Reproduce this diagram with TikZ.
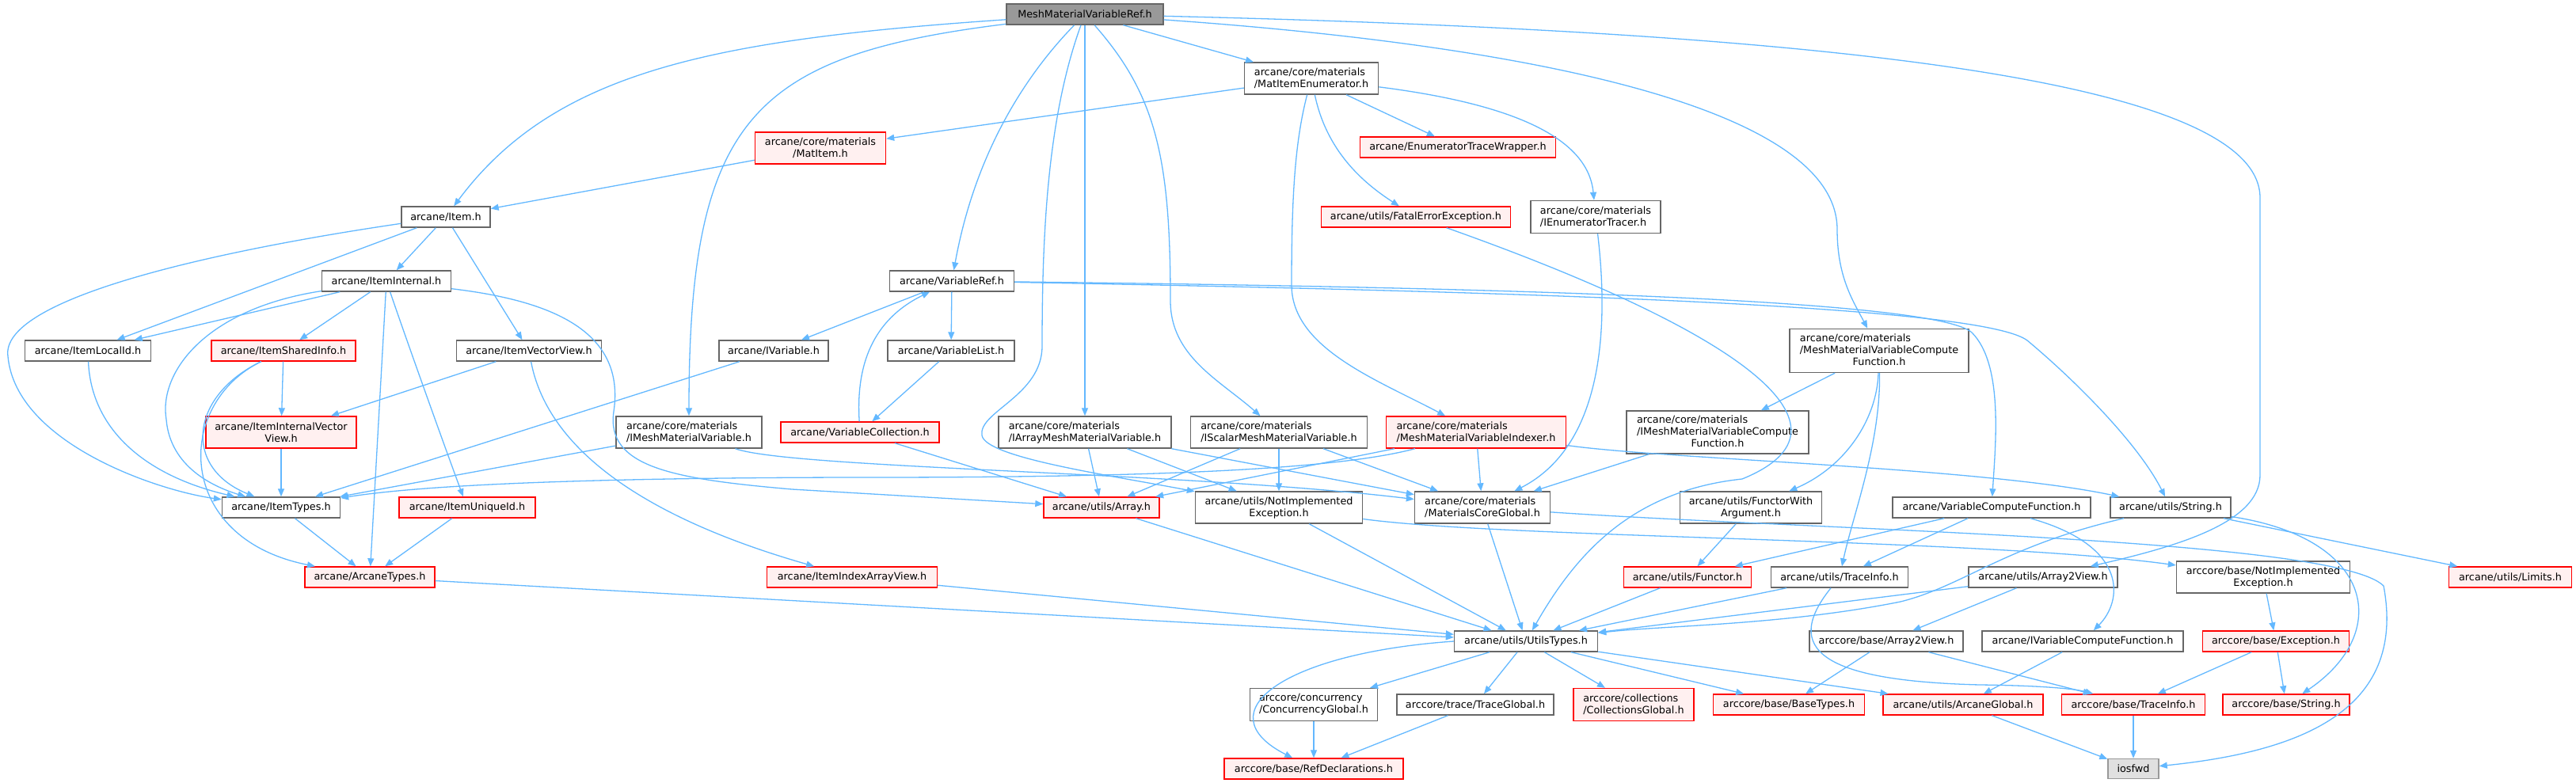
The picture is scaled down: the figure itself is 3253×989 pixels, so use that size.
\documentclass[tikz,border=0pt]{standalone}
\usepackage{fontspec}
\setmainfont{DejaVu Sans}
\usepackage{tikz}
\usetikzlibrary{arrows.meta}
\definecolor{edgeblue}{HTML}{63B8FF}
\definecolor{boxgray}{HTML}{666666}
\definecolor{rootgray}{HTML}{999999}
\definecolor{truncfill}{HTML}{FFF0F0}
\definecolor{sysfill}{HTML}{E0E0E0}
\tikzstyle{file} = [rectangle, draw=boxgray, fill=white, line width=0.7pt, inner sep=1pt, align=center, font=\fontsize{6.4}{7.5}\selectfont]
\tikzstyle{trunc} = [file, draw=red, fill=truncfill]
\tikzstyle{root} = [file, fill=rootgray]
\tikzstyle{sys} = [file, draw=rootgray, fill=sysfill]
\tikzstyle{dep} = [draw=edgeblue, line width=0.65pt, -{Triangle[length=5pt,width=4pt]}]

\begin{document}
\begin{tikzpicture}[x=0.5pt, y=-0.5pt]
    \useasboundingbox (0,0) rectangle (3253,989);

    % Included file (root)
    \node[root, minimum width=99pt, minimum height=13pt] (R) at (1370,18) {MeshMaterialVariableRef.h};

    % Rank 1-2
    \node[file, minimum width=84.5pt, minimum height=20pt, align=left] (matenum) at (1656,99) {arcane/core/materials\\/MatItemEnumerator.h};
    \node[trunc, minimum width=82.5pt, minimum height=20pt] (matitem) at (1036,187) {arcane/core/materials\\/MatItem.h};
    \node[trunc, minimum width=123.5pt, minimum height=13pt] (enumwrap) at (1841,186) {arcane/EnumeratorTraceWrapper.h};
    \node[trunc, minimum width=119.5pt, minimum height=13pt] (fatal) at (1788,274) {arcane/utils/FatalErrorException.h};
    \node[file, minimum width=82pt, minimum height=20.5pt, align=left] (ienumtracer) at (2015,274) {arcane/core/materials\\/IEnumeratorTracer.h};
    \node[file, minimum width=56pt, minimum height=13pt] (item) at (563,274) {arcane/Item.h};

    % Rank 3-4
    \node[file, minimum width=81.5pt, minimum height=13pt] (iteminternal) at (488,355) {arcane/ItemInternal.h};
    \node[file, minimum width=78.5pt, minimum height=13pt] (varref) at (1202,355) {arcane/VariableRef.h};
    \node[file, minimum width=113pt, minimum height=27.5pt] (mmvcf) at (2373,443) {\begin{tabular}{@{}l@{}}arcane/core/materials\\/MeshMaterialVariableCompute\\\multicolumn{1}{@{}c@{}}{Function.h}\end{tabular}};
    \node[file, minimum width=79.5pt, minimum height=13pt] (itemlocalid) at (111,443) {arcane/ItemLocalId.h};
    \node[trunc, minimum width=91pt, minimum height=13pt] (itemsharedinfo) at (358,443) {arcane/ItemSharedInfo.h};
    \node[file, minimum width=91.5pt, minimum height=13pt] (itemvectorview) at (668,443) {arcane/ItemVectorView.h};
    \node[file, minimum width=69pt, minimum height=13pt] (ivariable) at (977,443) {arcane/IVariable.h};
    \node[file, minimum width=80pt, minimum height=13pt] (variablelist) at (1201,443) {arcane/VariableList.h};

    % Rank 5
    \node[trunc, minimum width=95pt, minimum height=20pt] (itemivv) at (355,546) {arcane/ItemInternalVector\\View.h};
    \node[file, minimum width=92pt, minimum height=20pt, align=left] (imeshmatvar) at (870,546) {arcane/core/materials\\/IMeshMaterialVariable.h};
    \node[trunc, minimum width=100pt, minimum height=13pt] (varcoll) at (1086,546) {arcane/VariableCollection.h};
    \node[file, minimum width=109pt, minimum height=20pt, align=left] (iarray) at (1370,546) {arcane/core/materials\\/IArrayMeshMaterialVariable.h};
    \node[file, minimum width=111.5pt, minimum height=20pt, align=left] (iscalar) at (1615,546) {arcane/core/materials\\/IScalarMeshMaterialVariable.h};
    \node[trunc, minimum width=113.5pt, minimum height=20pt, align=left] (indexer) at (1864,546) {arcane/core/materials\\/MeshMaterialVariableIndexer.h};
    \node[file, minimum width=115pt, minimum height=27pt] (immvcf) at (2169,546) {\begin{tabular}{@{}l@{}}arcane/core/materials\\/IMeshMaterialVariableCompute\\\multicolumn{1}{@{}c@{}}{Function.h}\end{tabular}};

    % Rank 6
    \node[file, minimum width=74.5pt, minimum height=13pt] (itemtypes) at (355,641) {arcane/ItemTypes.h};
    \node[trunc, minimum width=86pt, minimum height=13pt] (itemuid) at (590,641) {arcane/ItemUniqueId.h};
    \node[trunc, minimum width=73pt, minimum height=13pt] (array) at (1391,641) {arcane/utils/Array.h};
    \node[file, minimum width=105.5pt, minimum height=20pt] (notimpl) at (1615,641) {arcane/utils/NotImplemented\\Exception.h};
    \node[file, minimum width=85.5pt, minimum height=20pt, align=left] (matcoreglobal) at (1872,641) {arcane/core/materials\\/MaterialsCoreGlobal.h};
    \node[file, minimum width=89.5pt, minimum height=20pt] (functorwith) at (2211,641) {arcane/utils/FunctorWith\\Argument.h};
    \node[file, minimum width=125pt, minimum height=13pt] (varcompfn) at (2515,641) {arcane/VariableComputeFunction.h};
    \node[file, minimum width=76pt, minimum height=13pt] (string) at (2741,641) {arcane/utils/String.h};

    % Rank 7
    \node[trunc, minimum width=82pt, minimum height=13pt] (arcanetypes) at (467,729) {arcane/ArcaneTypes.h};
    \node[trunc, minimum width=107.5pt, minimum height=13pt] (itemindexav) at (1076,729) {arcane/ItemIndexArrayView.h};
    \node[trunc, minimum width=80.5pt, minimum height=13pt] (functor) at (2131,729) {arcane/utils/Functor.h};
    \node[file, minimum width=86.5pt, minimum height=13pt] (traceinfo) at (2323,729) {arcane/utils/TraceInfo.h};
    \node[file, minimum width=94pt, minimum height=13pt] (array2view) at (2580,729) {arcane/utils/Array2View.h};
    \node[file, minimum width=109.5pt, minimum height=20pt] (arcnotimpl) at (2858,729) {arccore/base/NotImplemented\\Exception.h};
    \node[trunc, minimum width=77.5pt, minimum height=13pt] (limits) at (3170,729) {arcane/utils/Limits.h};

    % Rank 8
    \node[file, minimum width=90.5pt, minimum height=13pt] (utilstypes) at (1927,810) {arcane/utils/UtilsTypes.h};
    \node[file, minimum width=97pt, minimum height=13pt] (arcarray2view) at (2382,810) {arccore/base/Array2View.h};
    \node[file, minimum width=127pt, minimum height=13pt] (ivarcompfn) at (2630,810) {arcane/IVariableComputeFunction.h};
    \node[trunc, minimum width=92.5pt, minimum height=13pt] (exception) at (2874,810) {arccore/base/Exception.h};

    % Rank 9
    \node[file, minimum width=80.5pt, minimum height=20.5pt, align=left] (concurrency) at (1659,890) {arccore/concurrency\\/ConcurrencyGlobal.h};
    \node[file, minimum width=99pt, minimum height=13pt] (traceglobal) at (1863,890) {arccore/trace/TraceGlobal.h};
    \node[trunc, minimum width=76pt, minimum height=20.5pt, align=left] (collections) at (2063,890) {arccore/collections\\/CollectionsGlobal.h};
    \node[trunc, minimum width=95.5pt, minimum height=13pt] (basetypes) at (2259,890) {arccore/base/BaseTypes.h};
    \node[trunc, minimum width=101pt, minimum height=13pt] (arcaneglobal) at (2479,890) {arcane/utils/ArcaneGlobal.h};
    \node[trunc, minimum width=90.5pt, minimum height=13pt] (arctraceinfo) at (2694,890) {arccore/base/TraceInfo.h};
    \node[trunc, minimum width=80pt, minimum height=13pt] (arcstring) at (2887,890) {arccore/base/String.h};

    % Rank 10
    \node[trunc, minimum width=113pt, minimum height=13pt] (refdecl) at (1659,971) {arccore/base/RefDeclarations.h};
    \node[sys, minimum width=32pt, minimum height=12.5pt] (iosfwd) at (2694,971) {iosfwd};

    % Root includes
    \draw[dep] (R) .. controls (900,50) and (700,90) .. (item);
    \draw[dep] (R) .. controls (950,70) and (870,150) .. (imeshmatvar);
    \draw[dep] (R) .. controls (1290,100) and (1230,200) .. (varref);
    \draw[dep] (R) .. controls (1322,150) and (1316,300) .. (1316,437) .. controls (1316,500) and (1235,520) .. (1240,550) .. controls (1245,578) and (1400,600) .. (notimpl);
    \draw[dep] (R) -- (iarray);
    \draw[dep] (R) .. controls (1460,120) and (1478,200) .. (1478,380) .. controls (1478,450) and (1540,480) .. (iscalar);
    \draw[dep] (R) -- (matenum);
    \draw[dep] (R) .. controls (1900,55) and (2320,130) .. (2320,290) .. controls (2320,350) and (2340,380) .. (mmvcf);
    \draw[dep] (R) .. controls (2300,40) and (2854,100) .. (2854,250) -- (2854,600) .. controls (2854,660) and (2750,690) .. (array2view);

    % MatItemEnumerator
    \draw[dep] (matenum) -- (matitem);
    \draw[dep] (matenum) -- (enumwrap);
    \draw[dep] (matenum) .. controls (1675,190) and (1720,230) .. (fatal);
    \draw[dep] (matenum) .. controls (1900,130) and (2005,170) .. (ienumtracer);
    \draw[dep] (matenum) .. controls (1635,180) and (1631,250) .. (1631,360) .. controls (1631,440) and (1740,480) .. (indexer);
    \draw[dep] (matitem) -- (item);
    \draw[dep] (ienumtracer) .. controls (2030,400) and (2030,560) .. (matcoreglobal);
    \draw[dep] (fatal) .. controls (2200,420) and (2360,540) .. (2200,605) .. controls (2060,620) and (1990,700) .. (utilstypes);

    % Item
    \draw[dep] (item) .. controls (250,320) and (0,380) .. (10,450) .. controls (20,560) and (200,620) .. (itemtypes);
    \draw[dep] (item) -- (itemlocalid);
    \draw[dep] (item) -- (iteminternal);
    \draw[dep] (item) -- (itemvectorview);

    % ItemInternal
    \draw[dep] (iteminternal) -- (itemlocalid);
    \draw[dep] (iteminternal) -- (itemsharedinfo);
    \draw[dep] (iteminternal) .. controls (260,390) and (200,470) .. (210,530) .. controls (215,590) and (270,615) .. (itemtypes);
    \draw[dep] (iteminternal) -- (arcanetypes);
    \draw[dep] (iteminternal) .. controls (510,420) and (560,560) .. (itemuid);
    \draw[dep] (iteminternal) .. controls (700,380) and (790,420) .. (775,520) .. controls (765,590) and (850,605) .. (1000,618) -- (array);

    % ItemSharedInfo, ItemLocalId, ItemVectorView
    \draw[dep] (itemsharedinfo) -- (itemivv);
    \draw[dep] (itemsharedinfo) .. controls (240,500) and (230,590) .. (itemtypes);
    \draw[dep] (itemsharedinfo) .. controls (220,510) and (220,680) .. (arcanetypes);
    \draw[dep] (itemlocalid) .. controls (115,540) and (180,600) .. (itemtypes);
    \draw[dep] (itemvectorview) -- (itemivv);
    \draw[dep] (itemvectorview) .. controls (690,560) and (800,650) .. (itemindexav);
    \draw[dep] (itemivv) -- (itemtypes);
    \draw[dep] (ivariable) -- (itemtypes);
    \draw[dep] (imeshmatvar) -- (itemtypes);
    \draw[dep] (imeshmatvar) .. controls (1000,592) and (1500,596) .. (matcoreglobal);
    \draw[dep] (itemtypes) -- (arcanetypes);
    \draw[dep] (itemuid) -- (arcanetypes);

    % VariableRef
    \draw[dep] (varref) -- (ivariable);
    \draw[dep] (varref) -- (variablelist);
    \draw[dep] (variablelist) -- (varcoll);
    \draw[dep] (varcoll) .. controls (1080,450) and (1110,400) .. (varref);
    \draw[dep] (varcoll) -- (array);
    \draw[dep] (varref) .. controls (1800,362) and (2440,375) .. (2490,420) .. controls (2530,460) and (2520,560) .. (varcompfn);
    \draw[dep] (varref) .. controls (1900,368) and (2500,385) .. (2560,430) .. controls (2620,480) and (2700,560) .. (string);

    % Materials variables
    \draw[dep] (iarray) -- (array);
    \draw[dep] (iarray) -- (notimpl);
    \draw[dep] (iarray) -- (matcoreglobal);
    \draw[dep] (iscalar) -- (array);
    \draw[dep] (iscalar) -- (notimpl);
    \draw[dep] (iscalar) -- (matcoreglobal);
    \draw[dep] (indexer) -- (array);
    \draw[dep] (indexer) .. controls (1700,590) and (1500,603) .. (1100,603) .. controls (800,603) and (550,610) .. (itemtypes);
    \draw[dep] (indexer) -- (matcoreglobal);
    \draw[dep] (indexer) .. controls (2100,580) and (2500,590) .. (string);
    \draw[dep] (immvcf) -- (matcoreglobal);
    \draw[dep] (mmvcf) -- (immvcf);
    \draw[dep] (mmvcf) .. controls (2370,530) and (2330,590) .. (functorwith);
    \draw[dep] (mmvcf) .. controls (2375,560) and (2340,650) .. (traceinfo);

    % Rank 6 out
    \draw[dep] (matcoreglobal) -- (utilstypes);
    \draw[dep] (matcoreglobal) .. controls (2300,670) and (2950,680) .. (3010,740) .. controls (3040,900) and (2900,950) .. (iosfwd);
    \draw[dep] (notimpl) -- (utilstypes);
    \draw[dep] (notimpl) .. controls (1900,680) and (2500,680) .. (arcnotimpl);
    \draw[dep] (array) -- (utilstypes);
    \draw[dep] (functorwith) -- (functor);
    \draw[dep] (varcompfn) -- (functor);
    \draw[dep] (varcompfn) -- (traceinfo);
    \draw[dep] (varcompfn) .. controls (2690,690) and (2680,760) .. (ivarcompfn);
    \draw[dep] (string) .. controls (2530,690) and (2480,740) .. (2400,760) .. controls (2250,790) and (2100,790) .. (utilstypes);
    \draw[dep] (string) -- (limits);
    \draw[dep] (string) .. controls (3000,680) and (3020,800) .. (arcstring);

    % Rank 7 out
    \draw[dep] (arcanetypes) -- (utilstypes);
    \draw[dep] (itemindexav) -- (utilstypes);
    \draw[dep] (functor) -- (utilstypes);
    \draw[dep] (traceinfo) -- (utilstypes);
    \draw[dep] (traceinfo) .. controls (2250,820) and (2300,860) .. (2500,865) .. controls (2580,866) and (2620,870) .. (arctraceinfo);
    \draw[dep] (array2view) -- (utilstypes);
    \draw[dep] (array2view) -- (arcarray2view);
    \draw[dep] (arcnotimpl) -- (exception);

    % Rank 8 out
    \draw[dep] (utilstypes.west) .. controls (1620,825) and (1520,900) .. (refdecl);
    \draw[dep] (utilstypes) -- (concurrency);
    \draw[dep] (utilstypes) -- (traceglobal);
    \draw[dep] (utilstypes) -- (collections);
    \draw[dep] (utilstypes) -- (basetypes);
    \draw[dep] (utilstypes) -- (arcaneglobal);
    \draw[dep] (arcarray2view) -- (basetypes);
    \draw[dep] (arcarray2view) -- (arctraceinfo);
    \draw[dep] (ivarcompfn) -- (arcaneglobal);
    \draw[dep] (exception) -- (arctraceinfo);
    \draw[dep] (exception) -- (arcstring);

    % Rank 9 out
    \draw[dep] (concurrency) -- (refdecl);
    \draw[dep] (traceglobal) -- (refdecl);
    \draw[dep] (arcaneglobal) -- (iosfwd);
    \draw[dep] (arctraceinfo) -- (iosfwd);

\end{tikzpicture}
\end{document}
